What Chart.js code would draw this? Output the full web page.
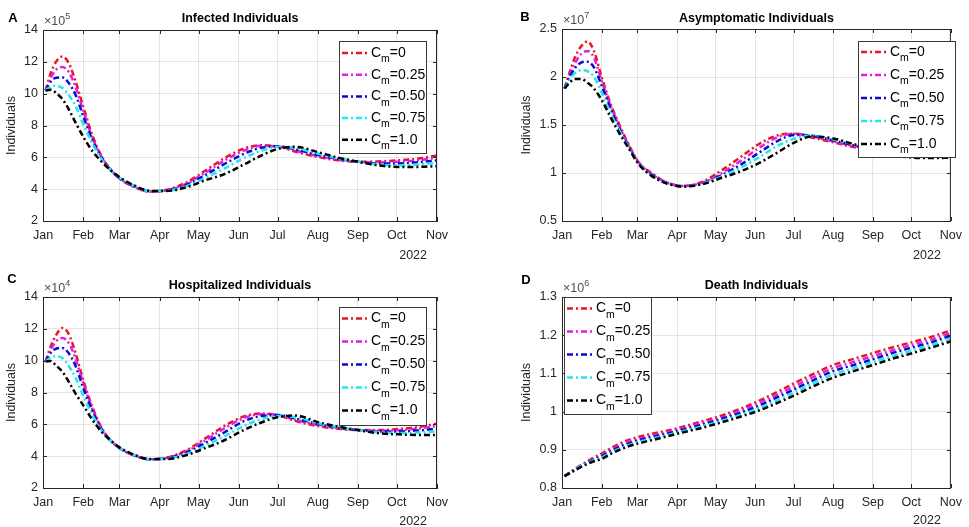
<!DOCTYPE html>
<html>
<head>
<meta charset="utf-8">
<script src="https://cdn.jsdelivr.net/npm/chart.js@4.4.0/dist/chart.umd.min.js"></script>
<style>
  html, body { margin: 0; padding: 0; background: #fff; }
  #wrap { position: relative; width: 969px; height: 527px; overflow: hidden; }
  .panel { position: absolute; }
</style>
</head>
<body>
<div id="wrap">
  <div class="panel" style="left:0px;top:0px"><canvas id="cA" width="480" height="262"></canvas></div>
  <div class="panel" style="left:515px;top:0px"><canvas id="cB" width="454" height="262"></canvas></div>
  <div class="panel" style="left:0px;top:262px"><canvas id="cC" width="480" height="265"></canvas></div>
  <div class="panel" style="left:515px;top:262px"><canvas id="cD" width="454" height="265"></canvas></div>
</div>
<script>
// day of year 2022 (0 = Jan 1)
const days = [2, 6, 10, 15, 20, 25, 31, 38, 45, 52, 60, 70, 82, 95, 110, 125, 140, 155, 168, 182, 195, 212, 228, 243, 258, 274, 290, 304];
const monthDays = [0, 31, 59, 90, 120, 151, 181, 212, 243, 273, 304];
const monthLabels = ['Jan', 'Feb', 'Mar', 'Apr', 'May', 'Jun', 'Jul', 'Aug', 'Sep', 'Oct', 'Nov'];
const cmValues = ['0', '0.25', '0.50', '0.75', '1.0'];
const cmColors = ['#e8161c', '#e41ce4', '#0a0ad2', '#1ee8f0', '#000000'];

// Infected individuals, x10^5
const infCm0 = [10.2, 11.3, 12.0, 12.33, 11.9, 10.8, 9.2, 7.4, 6.1, 5.25, 4.6, 4.15, 3.85, 3.95, 4.4, 5.15, 5.95, 6.55, 6.76, 6.66, 6.35, 6.02, 5.81, 5.72, 5.74, 5.81, 5.92, 6.12];
const infCm025 = [10.2, 11.0, 11.5, 11.67, 11.35, 10.45, 8.95, 7.25, 6.05, 5.24, 4.62, 4.17, 3.86, 3.93, 4.32, 5.02, 5.8, 6.42, 6.72, 6.68, 6.42, 6.08, 5.85, 5.72, 5.68, 5.73, 5.82, 5.98];
const infCm050 = [10.2, 10.75, 11.0, 11.02, 10.65, 9.95, 8.6, 7.1, 6.0, 5.23, 4.64, 4.2, 3.87, 3.91, 4.25, 4.88, 5.58, 6.22, 6.6, 6.7, 6.5, 6.15, 5.9, 5.72, 5.62, 5.62, 5.7, 5.81];
const infCm075 = [10.2, 10.45, 10.5, 10.35, 9.9, 9.25, 8.1, 6.9, 5.92, 5.22, 4.67, 4.22, 3.88, 3.9, 4.17, 4.7, 5.3, 5.95, 6.4, 6.66, 6.58, 6.24, 5.94, 5.72, 5.56, 5.5, 5.55, 5.65];
const infCm1 = [10.2, 10.25, 10.05, 9.65, 9.0, 8.2, 7.3, 6.4, 5.75, 5.2, 4.7, 4.25, 3.9, 3.88, 4.1, 4.55, 4.95, 5.55, 6.1, 6.55, 6.66, 6.33, 5.98, 5.72, 5.5, 5.4, 5.4, 5.45];

// Asymptomatic individuals, x10^7
const asyCm0 = [1.88, 2.05, 2.2, 2.32, 2.37, 2.27, 2.0, 1.72, 1.5, 1.3, 1.11, 1.0, 0.9, 0.865, 0.91, 1.03, 1.17, 1.31, 1.39, 1.41, 1.37, 1.32, 1.27, 1.25, 1.25, 1.26, 1.28, 1.3];
const asyCm025 = [1.88, 2.02, 2.14, 2.24, 2.27, 2.2, 1.96, 1.7, 1.48, 1.29, 1.11, 0.99, 0.9, 0.865, 0.9, 1.0, 1.13, 1.27, 1.37, 1.41, 1.38, 1.33, 1.28, 1.25, 1.24, 1.25, 1.265, 1.275];
const asyCm050 = [1.88, 2.0, 2.09, 2.15, 2.16, 2.1, 1.91, 1.67, 1.46, 1.28, 1.1, 0.985, 0.895, 0.862, 0.895, 0.98, 1.09, 1.22, 1.33, 1.395, 1.39, 1.34, 1.29, 1.25, 1.23, 1.23, 1.24, 1.246];
const asyCm075 = [1.88, 1.97, 2.04, 2.07, 2.06, 2.0, 1.84, 1.62, 1.44, 1.27, 1.095, 0.975, 0.89, 0.86, 0.89, 0.965, 1.06, 1.17, 1.28, 1.36, 1.39, 1.35, 1.3, 1.245, 1.21, 1.2, 1.2, 1.21];
const asyCm1 = [1.88, 1.94, 1.98, 1.98, 1.94, 1.88, 1.76, 1.58, 1.41, 1.26, 1.09, 0.97, 0.89, 0.86, 0.885, 0.95, 1.02, 1.11, 1.21, 1.32, 1.38, 1.36, 1.3, 1.24, 1.19, 1.16, 1.155, 1.16];

// Hospitalized individuals, x10^4
const hosCm0 = [9.95, 10.9, 11.6, 12.05, 11.65, 10.5, 8.8, 7.1, 5.8, 5.0, 4.45, 4.05, 3.8, 3.9, 4.35, 5.1, 5.9, 6.5, 6.68, 6.55, 6.2, 5.89, 5.72, 5.64, 5.64, 5.7, 5.84, 6.04];
const hosCm025 = [9.95, 10.7, 11.2, 11.42, 11.1, 10.15, 8.6, 7.0, 5.76, 5.0, 4.46, 4.06, 3.8, 3.88, 4.28, 4.98, 5.75, 6.4, 6.64, 6.57, 6.28, 5.95, 5.75, 5.64, 5.6, 5.63, 5.74, 5.9];
const hosCm050 = [9.95, 10.5, 10.75, 10.8, 10.45, 9.7, 8.3, 6.85, 5.7, 5.0, 4.47, 4.07, 3.81, 3.86, 4.2, 4.82, 5.5, 6.2, 6.52, 6.58, 6.36, 6.02, 5.78, 5.64, 5.55, 5.55, 5.62, 5.73];
const hosCm075 = [9.95, 10.2, 10.28, 10.15, 9.65, 8.95, 7.8, 6.6, 5.63, 5.0, 4.48, 4.08, 3.81, 3.84, 4.12, 4.65, 5.25, 5.9, 6.32, 6.53, 6.45, 6.08, 5.81, 5.64, 5.5, 5.45, 5.48, 5.57];
const hosCm1 = [9.95, 9.98, 9.7, 9.3, 8.65, 7.95, 7.2, 6.3, 5.55, 5.0, 4.5, 4.1, 3.82, 3.82, 4.05, 4.5, 5.0, 5.65, 6.1, 6.47, 6.55, 6.14, 5.85, 5.64, 5.45, 5.37, 5.33, 5.33];

// Death individuals, x10^6
const dthCm0 = [0.831, 0.840, 0.849, 0.860, 0.870, 0.880, 0.890, 0.904, 0.916, 0.926, 0.934, 0.942, 0.950, 0.961, 0.975, 0.990, 1.008, 1.030, 1.051, 1.075, 1.096, 1.122, 1.138, 1.153, 1.168, 1.182, 1.197, 1.213];
const dthCm025 = [0.831, 0.840, 0.848, 0.859, 0.868, 0.877, 0.886, 0.900, 0.911, 0.921, 0.929, 0.937, 0.946, 0.957, 0.971, 0.985, 1.003, 1.024, 1.044, 1.067, 1.088, 1.114, 1.130, 1.145, 1.160, 1.175, 1.190, 1.206];
const dthCm050 = [0.831, 0.839, 0.848, 0.858, 0.867, 0.875, 0.883, 0.896, 0.907, 0.916, 0.925, 0.933, 0.942, 0.953, 0.966, 0.981, 0.997, 1.017, 1.037, 1.059, 1.080, 1.106, 1.122, 1.137, 1.153, 1.168, 1.183, 1.199];
const dthCm075 = [0.831, 0.839, 0.847, 0.857, 0.865, 0.873, 0.880, 0.892, 0.903, 0.912, 0.921, 0.929, 0.938, 0.949, 0.962, 0.976, 0.992, 1.010, 1.029, 1.051, 1.072, 1.097, 1.114, 1.130, 1.145, 1.160, 1.176, 1.192];
const dthCm1 = [0.831, 0.839, 0.846, 0.855, 0.863, 0.870, 0.876, 0.889, 0.900, 0.909, 0.917, 0.925, 0.935, 0.946, 0.958, 0.972, 0.987, 1.004, 1.022, 1.043, 1.064, 1.089, 1.106, 1.122, 1.138, 1.153, 1.169, 1.184];

const FONT = '"Liberation Sans", Arial, Helvetica, sans-serif';
const TXT = '#262626';

const panels = [
  {
    id: 'cA', letter: 'A', title: 'Infected Individuals', exp: '5',
    series: [infCm0, infCm025, infCm050, infCm075, infCm1],
    yMin: 2, yMax: 14, yTicks: [2, 4, 6, 8, 10, 12, 14],
    w: 480, h: 262, area: { left: 43, top: 30, right: 437, bottom: 221 },
    letterPos: [13, 18], titleY: 19, yearY: 259,
    legend: { x: 339, y: 41, w: 87, h: 112, row0: 53, step: 21.7, line: [342, 369], text: 371 }
  },
  {
    id: 'cB', letter: 'B', title: 'Asymptomatic Individuals', exp: '7',
    series: [asyCm0, asyCm025, asyCm050, asyCm075, asyCm1],
    yMin: 0.5, yMax: 2.5, yTicks: [0.5, 1, 1.5, 2, 2.5],
    w: 454, h: 262, area: { left: 47, top: 29, right: 441, bottom: 221 },
    letterPos: [10, 17], titleY: 19, yearY: 259,
    legend: { x: 343, y: 41, w: 97, h: 116, row0: 52, step: 23, line: [346, 373], text: 375 }
  },
  {
    id: 'cC', letter: 'C', title: 'Hospitalized Individuals', exp: '4',
    series: [hosCm0, hosCm025, hosCm050, hosCm075, hosCm1],
    yMin: 2, yMax: 14, yTicks: [2, 4, 6, 8, 10, 12, 14],
    w: 480, h: 265, area: { left: 43, top: 35, right: 437, bottom: 226 },
    letterPos: [12, 17], titleY: 24, yearY: 263,
    legend: { x: 339, y: 45, w: 87, h: 118, row0: 56.5, step: 23, line: [342, 369], text: 371 }
  },
  {
    id: 'cD', letter: 'D', title: 'Death Individuals', exp: '6',
    series: [dthCm0, dthCm025, dthCm050, dthCm075, dthCm1],
    yMin: 0.8, yMax: 1.3, yTicks: [0.8, 0.9, 1, 1.1, 1.2, 1.3],
    w: 454, h: 265, area: { left: 47, top: 35, right: 441, bottom: 226 },
    letterPos: [11, 18], titleY: 24, yearY: 262,
    legend: { x: 49, y: 35, w: 87, h: 117, row0: 46.5, step: 23, line: [52, 79], text: 81 }
  }
];

const dash = [6, 3, 2, 3];

function drawCm(ctx, x, y, val) {
  ctx.fillStyle = '#000';
  ctx.textAlign = 'left';
  ctx.textBaseline = 'middle';
  ctx.font = '14px ' + FONT;
  ctx.fillText('C', x, y);
  const wc = ctx.measureText('C').width;
  ctx.font = '10.5px ' + FONT;
  ctx.fillText('m', x + wc, y + 6.5);
  const wm = ctx.measureText('m').width;
  ctx.font = '14px ' + FONT;
  ctx.fillText('=' + val, x + wc + wm, y);
}

function decoPlugin(p) {
  return {
    id: 'deco' + p.letter,
    afterDatasetsDraw(chart) {
      const ctx = chart.ctx;
      const a = chart.chartArea;
      const xs = chart.scales.x, ys = chart.scales.y;
      ctx.save();
      // box and inward tick marks
      ctx.strokeStyle = TXT;
      ctx.lineWidth = 1;
      ctx.beginPath();
      ctx.moveTo(a.left, a.top + 0.5); ctx.lineTo(a.right, a.top + 0.5);
      ctx.moveTo(a.right - 0.5, a.top); ctx.lineTo(a.right - 0.5, a.bottom);
      monthDays.forEach(d => {
        const px = Math.round(xs.getPixelForValue(d)) + 0.5;
        ctx.moveTo(px, a.bottom); ctx.lineTo(px, a.bottom - 4);
        ctx.moveTo(px, a.top); ctx.lineTo(px, a.top + 4);
      });
      p.yTicks.forEach(v => {
        const py = Math.round(ys.getPixelForValue(v)) + 0.5;
        ctx.moveTo(a.left, py); ctx.lineTo(a.left + 4, py);
        ctx.moveTo(a.right, py); ctx.lineTo(a.right - 4, py);
      });
      ctx.stroke();

      // legend
      const L = p.legend;
      ctx.fillStyle = '#fff';
      ctx.fillRect(L.x, L.y, L.w, L.h);
      ctx.strokeStyle = '#3a3a3a';
      ctx.strokeRect(L.x + 0.5, L.y + 0.5, L.w, L.h);
      cmValues.forEach((v, i) => {
        const y = L.row0 + i * L.step;
        ctx.save();
        ctx.strokeStyle = cmColors[i];
        ctx.lineWidth = 2.5;
        ctx.setLineDash(dash);
        ctx.beginPath();
        ctx.moveTo(L.line[0], y); ctx.lineTo(L.line[1], y);
        ctx.stroke();
        ctx.restore();
        drawCm(ctx, L.text, y, v);
      });

      // panel letter, title, exponent, year
      ctx.fillStyle = '#000';
      ctx.textBaseline = 'middle';
      ctx.textAlign = 'center';
      ctx.font = 'bold 13px ' + FONT;
      ctx.fillText(p.letter, p.letterPos[0], p.letterPos[1]);
      ctx.font = 'bold 12.5px ' + FONT;
      ctx.fillText(p.title, (a.left + a.right) / 2, p.titleY);

      ctx.fillStyle = '#4d4d4d';
      ctx.textBaseline = 'alphabetic';
      ctx.textAlign = 'left';
      ctx.font = '12.5px ' + FONT;
      const base = a.top - 5;
      ctx.fillText('\u00d710', a.left + 1, base);
      const we = ctx.measureText('\u00d710').width;
      ctx.font = '9px ' + FONT;
      ctx.fillText(p.exp, a.left + 1 + we, base - 6);

      ctx.fillStyle = TXT;
      ctx.textAlign = 'right';
      ctx.font = '12.5px ' + FONT;
      ctx.fillText('2022', a.right - 10, p.yearY);
      ctx.restore();
    }
  };
}

panels.forEach(p => {
  const datasets = p.series.map((vals, i) => ({
    label: 'Cm=' + cmValues[i],
    data: days.map((d, k) => ({ x: d, y: vals[k] })),
    borderColor: cmColors[i],
    backgroundColor: cmColors[i],
    borderWidth: 2.5,
    borderDash: dash,
    pointRadius: 0,
    fill: false,
    cubicInterpolationMode: 'monotone',
    order: 4 - i
  }));

  new Chart(document.getElementById(p.id), {
    type: 'line',
    data: { datasets },
    options: {
      responsive: false,
      animation: false,
      layout: { padding: { left: 0, top: p.area.top, right: p.w - p.area.right, bottom: 0 } },
      plugins: { legend: { display: false }, tooltip: { enabled: false }, title: { display: false } },
      scales: {
        x: {
          type: 'linear', min: 0, max: 304,
          afterBuildTicks: s => { s.ticks = monthDays.map(v => ({ value: v })); },
          afterFit: s => { s.height = p.h - p.area.bottom; },
          ticks: {
            callback: (v, i) => monthLabels[i],
            font: { family: FONT, size: 12.5 }, color: TXT,
            padding: 7, maxRotation: 0, autoSkip: false
          },
          grid: { color: 'rgba(0,0,0,0.1)', drawTicks: false },
          border: { color: TXT, width: 1 }
        },
        y: {
          min: p.yMin, max: p.yMax,
          afterBuildTicks: s => { s.ticks = p.yTicks.map(v => ({ value: v })); },
          afterFit: s => { s.width = p.area.left; },
          ticks: {
            callback: v => String(+v.toFixed(2)),
            font: { family: FONT, size: 12.5 }, color: TXT, padding: 5
          },
          title: {
            display: true, text: 'Individuals', color: TXT,
            font: { family: FONT, size: 12.5 }, padding: { top: 4, bottom: 0 }
          },
          grid: { color: 'rgba(0,0,0,0.1)', drawTicks: false },
          border: { color: TXT, width: 1 }
        }
      }
    },
    plugins: [decoPlugin(p)]
  });
});
</script>
</body>
</html>
